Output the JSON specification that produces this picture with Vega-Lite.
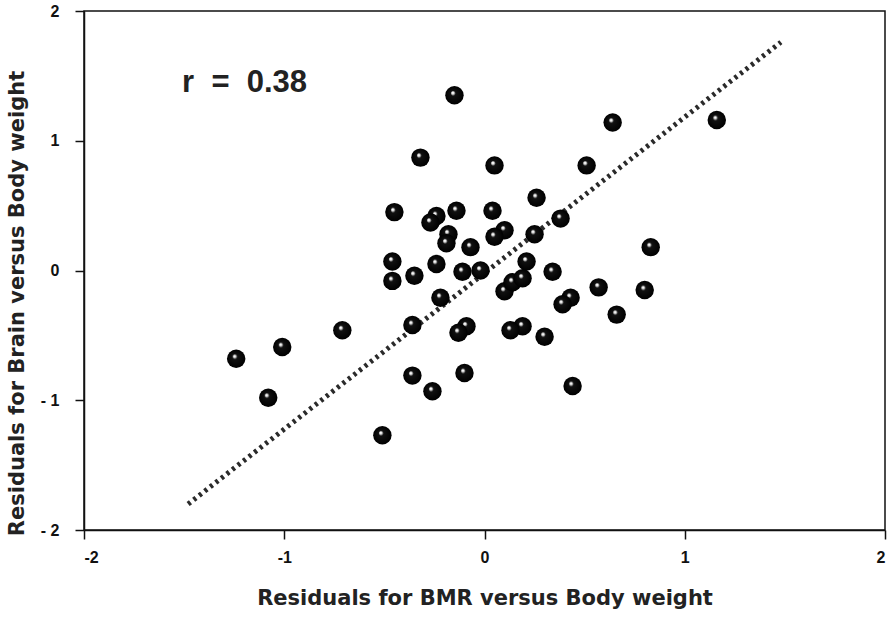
{
  "$schema": "https://vega.github.io/schema/vega-lite/v6.json",
  "width": 801,
  "height": 519,
  "autosize": {"type": "none"},
  "padding": {"left": 84, "top": 11, "right": 7, "bottom": 88},
  "background": "white",
  "config": {
    "view": {"stroke": "#111", "strokeWidth": 1.5},
    "font": "Liberation Sans"
  },
  "datasets": {
    "pts": [
      {"x": -0.15, "y": 1.35}, {"x": -0.32, "y": 0.87}, {"x": 0.05, "y": 0.81}, {"x": 0.64, "y": 1.14},
      {"x": 1.16, "y": 1.16}, {"x": 0.51, "y": 0.81}, {"x": -0.45, "y": 0.45}, {"x": -0.14, "y": 0.46},
      {"x": 0.04, "y": 0.46}, {"x": -0.24, "y": 0.42}, {"x": -0.27, "y": 0.37}, {"x": 0.26, "y": 0.56},
      {"x": 0.38, "y": 0.40}, {"x": -0.18, "y": 0.28}, {"x": -0.19, "y": 0.21}, {"x": -0.07, "y": 0.18},
      {"x": 0.10, "y": 0.31}, {"x": 0.05, "y": 0.26}, {"x": 0.25, "y": 0.28}, {"x": -0.46, "y": 0.07},
      {"x": 0.83, "y": 0.18}, {"x": -0.24, "y": 0.05}, {"x": -0.11, "y": -0.01}, {"x": -0.02, "y": 0.0},
      {"x": 0.21, "y": 0.07}, {"x": -0.46, "y": -0.08}, {"x": -0.35, "y": -0.04}, {"x": 0.34, "y": -0.01},
      {"x": 0.10, "y": -0.16}, {"x": 0.14, "y": -0.09}, {"x": 0.19, "y": -0.06}, {"x": -0.22, "y": -0.21},
      {"x": 0.57, "y": -0.13}, {"x": 0.80, "y": -0.15}, {"x": 0.43, "y": -0.21}, {"x": 0.39, "y": -0.26},
      {"x": 0.66, "y": -0.34}, {"x": -0.71, "y": -0.46}, {"x": -0.36, "y": -0.42}, {"x": -0.09, "y": -0.43},
      {"x": -0.13, "y": -0.48}, {"x": 0.19, "y": -0.43}, {"x": 0.13, "y": -0.46}, {"x": 0.30, "y": -0.51},
      {"x": -1.24, "y": -0.68}, {"x": -1.01, "y": -0.59}, {"x": -0.36, "y": -0.81}, {"x": -0.10, "y": -0.79},
      {"x": -0.26, "y": -0.93}, {"x": 0.44, "y": -0.89}, {"x": -1.08, "y": -0.98}, {"x": -0.51, "y": -1.27}
    ],
    "fit": [{"x": -1.48, "y": -1.80}, {"x": 1.48, "y": 1.76}],
    "lbl": [{"x": -1.51, "y": 1.375, "label": "r\u00a0\u00a0=\u00a0\u00a00.38"}]
  },
  "encoding": {
    "x": {
      "field": "x", "type": "quantitative",
      "scale": {"domain": [-2, 2], "nice": false, "zero": false},
      "axis": {
        "title": "Residuals for BMR versus Body weight",
        "values": [-2, -1, 0, 1, 2],
        "grid": false,
        "domainColor": "#111", "domainWidth": 1.5,
        "tickColor": "#111", "tickWidth": 1.5, "tickSize": 9,
        "labelFont": "Liberation Sans", "labelFontWeight": "bold", "labelFontSize": 16, "labelColor": "#111",
        "labelPadding": 10,
        "labelExpr": "datum.value < 0 ? '-' + abs(datum.value) : datum.label",
        "titleFont": "DejaVu Sans", "titleFontWeight": "bold", "titleFontSize": 21, "titleColor": "#222",
        "titleY": 74, "titleBaseline": "alphabetic"
      }
    },
    "y": {
      "field": "y", "type": "quantitative",
      "scale": {"domain": [-2, 2], "nice": false, "zero": false},
      "axis": {
        "title": "Residuals for Brain versus Body weight",
        "values": [-2, -1, 0, 1, 2],
        "grid": false,
        "domainColor": "#111", "domainWidth": 1.5,
        "tickColor": "#111", "tickWidth": 1.5, "tickSize": 9,
        "labelFont": "Liberation Sans", "labelFontWeight": "bold", "labelFontSize": 16, "labelColor": "#111",
        "labelPadding": 16,
        "labelExpr": "datum.value < 0 ? '- ' + abs(datum.value) : datum.label",
        "titleFont": "DejaVu Sans", "titleFontWeight": "bold", "titleFontSize": 21, "titleColor": "#222",
        "titleX": -61, "titleY": 292, "titleBaseline": "alphabetic", "titleAngle": -90, "titleAlign": "center"
      }
    }
  },
  "layer": [
    {
      "data": {"name": "fit"},
      "mark": {"type": "line", "stroke": "#2a2a2a", "strokeWidth": 5, "strokeDash": [3, 4], "strokeCap": "butt"}
    },
    {
      "data": {"name": "pts"},
      "mark": {
        "type": "point", "shape": "circle", "filled": true, "size": 340, "opacity": 1, "strokeWidth": 0,
        "fill": {
          "gradient": "radial",
          "x1": 0.4, "y1": 0.35, "r1": 0,
          "x2": 0.5, "y2": 0.5, "r2": 0.5,
          "stops": [
            {"offset": 0, "color": "#ffffff"},
            {"offset": 0.12, "color": "#eeeeee"},
            {"offset": 0.28, "color": "#111111"},
            {"offset": 1, "color": "#000000"}
          ]
        }
      }
    },
    {
      "data": {"name": "lbl"},
      "mark": {"type": "text", "align": "left", "baseline": "alphabetic", "font": "Liberation Sans", "fontWeight": "bold", "fontSize": 31, "color": "#222"},
      "encoding": {"text": {"field": "label"}}
    }
  ]
}
